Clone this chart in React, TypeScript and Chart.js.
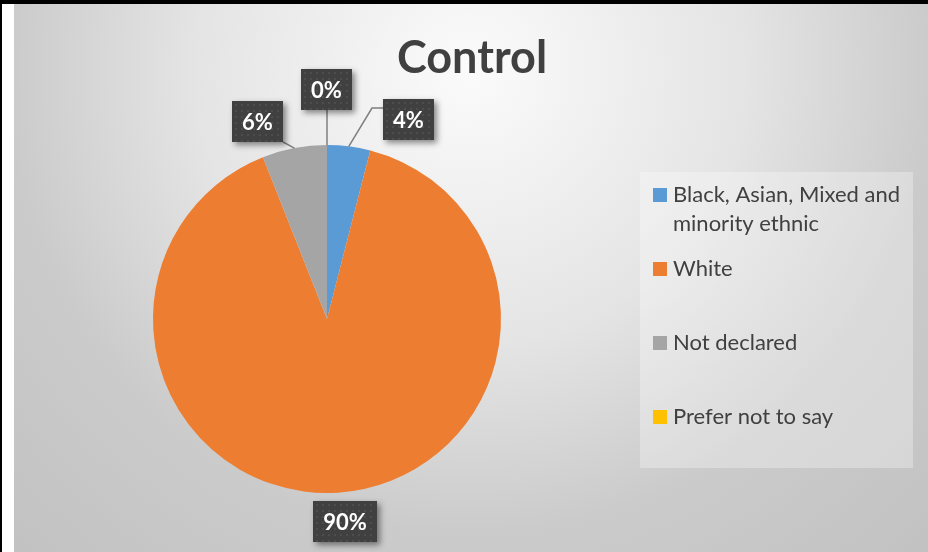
import React, { useEffect, useRef } from "react";
import { Chart, registerables } from "chart.js";

Chart.register(...registerables);

const TITLE = "Control";
const categories = [
  "Black, Asian, Mixed and minority ethnic",
  "White",
  "Not declared",
  "Prefer not to say",
];
const values = [4, 90, 6, 0];
const colors = ["#5B9BD5", "#ED7D31", "#A5A5A5", "#FFC000"];

// data-label layout: angular shift (deg) from slice mid-angle, gap beyond outer radius to box centre
const labelShift = [15, -1.6, -8.5, 0];
const labelGap = [41, 29, 35, 56];
const leaderStyle = ["elbow", "straight", "straight", "straight"];

const FONT = "Lato, 'Open Sans', sans-serif";

function wrapText(ctx: CanvasRenderingContext2D, text: string, maxW: number): string[] {
  const words = text.split(" ");
  const lines: string[] = [];
  let cur = "";
  for (const w of words) {
    const t = cur ? cur + " " + w : w;
    if (ctx.measureText(t).width > maxW && cur) {
      lines.push(cur);
      cur = w;
    } else cur = t;
  }
  if (cur) lines.push(cur);
  return lines;
}

const backgroundPlugin = {
  id: "excelBackground",
  beforeDraw(chart: any) {
    const { ctx, width, height } = chart;
    ctx.save();
    ctx.fillStyle = "#ffffff";
    ctx.fillRect(0, 0, width, height);
    const g = ctx.createRadialGradient(470, 70, 0, 470, 70, 660);
    g.addColorStop(0, "#fbfbfb");
    g.addColorStop(0.42, "#e4e4e4");
    g.addColorStop(0.7, "#cbcbcb");
    g.addColorStop(1, "#c2c2c2");
    ctx.fillStyle = g;
    ctx.fillRect(14, 4, width - 14, height - 4);
    ctx.fillStyle = "#000000";
    ctx.fillRect(0, 0, width, 4);
    ctx.fillRect(0, 0, 2, height);

    // title
    ctx.fillStyle = "#404040";
    ctx.font = `bold 45px ${FONT}`;
    ctx.textAlign = "center";
    ctx.textBaseline = "alphabetic";
    ctx.fillText(TITLE, 472, 73);

    // legend
    const lx = 640, ly = 172, lw = 273, lh = 296;
    ctx.fillStyle = "rgba(255,255,255,0.3)";
    ctx.fillRect(lx, ly, lw, lh);
    ctx.font = `22px ${FONT}`;
    ctx.textAlign = "left";
    categories.forEach((c, i) => {
      const top = ly + 16 + i * 74;
      ctx.fillStyle = colors[i];
      ctx.fillRect(653, top, 14, 14);
      const lines = wrapText(ctx, c, 236);
      ctx.fillStyle = "#404040";
      lines.forEach((ln, j) => ctx.fillText(ln, 673, top + 14 + j * 29.3));
    });
    ctx.restore();
  },
};

const labelPlugin = {
  id: "excelDataLabels",
  afterDatasetsDraw(chart: any) {
    const { ctx } = chart;
    const meta = chart.getDatasetMeta(0);
    const total = values.reduce((a, b) => a + b, 0);
    meta.data.forEach((arc: any, i: number) => {
      const { x, y, startAngle, endAngle, outerRadius } = arc.getProps(
        ["x", "y", "startAngle", "endAngle", "outerRadius"],
        true
      );
      const mid = (startAngle + endAngle) / 2;
      const p0 = { x: x + Math.cos(mid) * outerRadius, y: y + Math.sin(mid) * outerRadius };
      const a = mid + (labelShift[i] * Math.PI) / 180;
      const d = outerRadius + labelGap[i];
      const cx = x + Math.cos(a) * d;
      const cy = y + Math.sin(a) * d;
      const text = Math.round((values[i] / total) * 100) + "%";
      ctx.save();
      ctx.font = `bold 22px ${FONT}`;
      const tw = ctx.measureText(text).width;
      const bw = Math.round(tw + 20);
      const bh = 41;
      const bx = Math.round(cx - bw / 2);
      const by = Math.round(cy - bh / 2);

      // leader line
      ctx.strokeStyle = "#7f7f7f";
      ctx.lineWidth = 1.5;
      ctx.beginPath();
      if (leaderStyle[i] === "elbow") {
        const ay = by + 9;
        const right = bx > p0.x;
        const edge = right ? bx : bx + bw;
        const ex = right ? edge - 11 : edge + 11;
        ctx.moveTo(p0.x, p0.y);
        ctx.lineTo(ex, ay);
        ctx.lineTo(edge, ay);
        ctx.stroke();
      } else {
        const qx = Math.min(Math.max(p0.x, bx), bx + bw);
        const qy = Math.min(Math.max(p0.y, by), by + bh);
        if (Math.hypot(qx - p0.x, qy - p0.y) > 10) {
          ctx.moveTo(p0.x, p0.y);
          ctx.lineTo(qx, qy);
          ctx.stroke();
        }
      }

      // box with shadow
      ctx.shadowColor = "rgba(0,0,0,0.45)";
      ctx.shadowBlur = 6;
      ctx.shadowOffsetX = 3;
      ctx.shadowOffsetY = 3;
      ctx.fillStyle = "#404040";
      ctx.fillRect(bx, by, bw, bh);
      ctx.shadowColor = "transparent";
      ctx.shadowBlur = 0;
      ctx.shadowOffsetX = 0;
      ctx.shadowOffsetY = 0;
      // dot pattern
      ctx.fillStyle = "rgba(255,255,255,0.07)";
      for (let yy = by + 3; yy < by + bh - 1; yy += 6) {
        for (let xx = bx + 3; xx < bx + bw - 1; xx += 6) {
          ctx.fillRect(xx, yy, 2, 2);
        }
      }
      ctx.fillStyle = "#ffffff";
      ctx.textAlign = "center";
      ctx.textBaseline = "middle";
      ctx.fillText(text, bx + bw / 2, by + bh / 2 + 1);
      ctx.restore();
    });
  },
};

export default function App() {
  const ref = useRef<HTMLCanvasElement | null>(null);
  useEffect(() => {
    if (!ref.current) return;
    const chart = new Chart(ref.current, {
      type: "pie",
      data: {
        labels: categories,
        datasets: [
          {
            data: values,
            backgroundColor: colors,
            borderWidth: 0,
          },
        ],
      },
      options: {
        responsive: false,
        animation: false,
        events: [],
        layout: { padding: { left: 153, right: 427, top: 145, bottom: 59 } },
        plugins: {
          legend: { display: false },
          title: { display: false },
          tooltip: { enabled: false },
        },
      },
      plugins: [backgroundPlugin, labelPlugin],
    });
    return () => chart.destroy();
  }, []);
  return (
    <div style={{ position: "absolute", left: 0, top: 0, width: 928, height: 552 }}>
      <canvas ref={ref} width={928} height={552} style={{ display: "block" }} />
    </div>
  );
}
